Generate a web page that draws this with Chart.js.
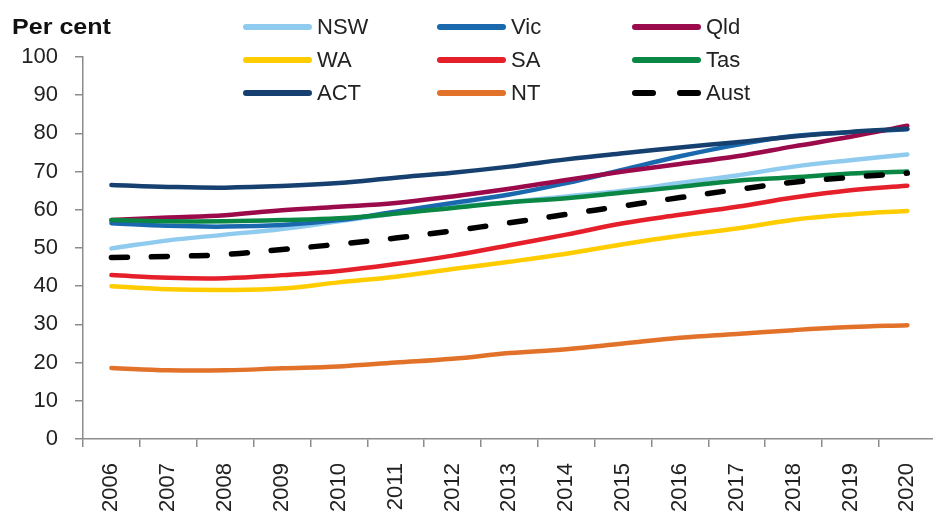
<!DOCTYPE html>
<html>
<head>
<meta charset="utf-8">
<script src="https://cdn.jsdelivr.net/npm/chart.js@4"></script>
<style>
  html, body { margin: 0; padding: 0; background: #fff; overflow: hidden; }
  #wrap { position: relative; width: 950px; height: 518px; }
  #unit { position: absolute; left: 12px; top: 14px; font: bold 22px "Liberation Sans", Arial, sans-serif; color: #111; transform: scaleX(1.14); transform-origin: left center; }
  .item { position: absolute; height: 28px; display: flex; align-items: center; font: 22px "Liberation Sans", Arial, sans-serif; color: #222; }
  .swatch { width: 69px; height: 6px; border-radius: 3px; margin-right: 5px; }
  .dash { display: flex; width: 69px; justify-content: space-between; margin-right: 5px; }
  .dash span { width: 24px; height: 6px; border-radius: 3px; background: #000; }
</style>
</head>
<body>
<div id="wrap">
  <canvas id="chart" width="950" height="518"></canvas>
  <div id="unit">Per cent</div>
  <div id="legend"></div>
</div>
<script>
const years = ["2006", "2007", "2008", "2009", "2010", "2011", "2012", "2013", "2014", "2015", "2016", "2017", "2018", "2019", "2020"];
const yTicks = [0, 10, 20, 30, 40, 50, 60, 70, 80, 90, 100];

const nsw = [49.9, 52.0, 53.5, 55.0, 57.0, 59.0, 60.8, 62.0, 63.5, 65.0, 67.0, 69.0, 71.3, 73.0, 74.5];
const vic = [56.5, 55.8, 55.6, 56.0, 57.3, 59.5, 61.8, 64.0, 67.0, 70.5, 74.0, 77.0, 79.3, 80.3, 81.1];
const qld = [57.3, 58.0, 58.6, 59.9, 60.8, 61.8, 63.5, 65.5, 67.8, 70.0, 72.0, 74.0, 76.6, 79.1, 82.0];
const wa  = [40.0, 39.2, 39.0, 39.4, 41.0, 42.5, 44.5, 46.4, 48.5, 51.0, 53.2, 55.1, 57.4, 58.8, 59.7];
const sa  = [42.9, 42.2, 42.1, 42.9, 44.0, 45.8, 48.0, 50.7, 53.5, 56.5, 58.7, 60.8, 63.2, 65.1, 66.3];
const tas = [57.3, 57.0, 57.0, 57.3, 57.8, 59.0, 60.5, 62.0, 63.0, 64.5, 66.0, 67.6, 68.5, 69.5, 70.0];
const act = [66.5, 66.0, 65.8, 66.2, 67.0, 68.4, 69.7, 71.3, 73.2, 74.8, 76.3, 77.7, 79.2, 80.4, 81.2];
const nt  = [18.6, 18.0, 18.0, 18.5, 19.0, 20.0, 21.0, 22.5, 23.5, 25.0, 26.5, 27.5, 28.5, 29.3, 29.8];
const aust = [47.5, 47.8, 48.3, 49.6, 51.0, 52.6, 54.5, 56.6, 58.8, 61.0, 63.2, 65.3, 67.2, 68.5, 69.6];

const series = [
  { label: "NSW", data: nsw, color: "#8fcbee" },
  { label: "Vic", data: vic, color: "#1a68ad" },
  { label: "Qld", data: qld, color: "#9b0a4a" },
  { label: "WA", data: wa, color: "#ffcc00" },
  { label: "SA", data: sa, color: "#e5202b" },
  { label: "Tas", data: tas, color: "#0a8745" },
  { label: "ACT", data: act, color: "#15406f" },
  { label: "NT", data: nt, color: "#e2722a" },
  { label: "Aust", data: aust, color: "#000000", dashed: true }
];

// legend (3 columns like the original)
const legend = document.getElementById("legend");
const colX = [243, 437, 632];
const rowY = [13, 46, 79];
series.forEach(function (s, i) {
  const item = document.createElement("div");
  item.className = "item";
  item.style.left = colX[i % 3] + "px";
  item.style.top = rowY[Math.floor(i / 3)] + "px";
  if (s.dashed) {
    item.innerHTML = '<div class="dash"><span></span><span></span></div>';
  } else {
    item.innerHTML = '<div class="swatch" style="background:' + s.color + '"></div>';
  }
  const txt = document.createElement("span");
  txt.textContent = s.label;
  item.appendChild(txt);
  legend.appendChild(item);
});

const axisColor = "#8c8c8c";
const ctx = document.getElementById("chart").getContext("2d");

new Chart(ctx, {
  type: "line",
  data: {
    labels: years,
    datasets: series.map(function (s, i) {
      return {
        label: s.label,
        data: s.data,
        borderColor: s.color,
        backgroundColor: s.color,
        borderWidth: s.dashed ? 5.5 : 4.5,
        borderDash: s.dashed ? [16, 24] : [],
        borderCapStyle: "round",
        borderJoinStyle: "round",
        pointRadius: 0,
        tension: 0.4,
        fill: false,
        order: series.length - i
      };
    })
  },
  options: {
    responsive: false,
    animation: false,
    layout: { padding: { left: 0, right: 8, top: 57, bottom: 0 } },
    plugins: { legend: { display: false }, tooltip: { enabled: false } },
    scales: {
      x: {
        type: "category",
        offset: true,
        afterFit: function (s) { s.height = 79; },
        grid: { drawOnChartArea: false, tickLength: 8, color: axisColor, lineWidth: 1.5, offset: true },
        border: { color: axisColor, width: 1.5 },
        ticks: {
          minRotation: 90, maxRotation: 90, padding: 16, autoSkip: false,
          color: "#222", font: { family: "Liberation Sans", size: 22 }
        }
      },
      y: {
        min: 0, max: 100,
        afterFit: function (s) { s.width = 83; },
        afterBuildTicks: function (s) { s.ticks = yTicks.map(function (v) { return { value: v }; }); },
        grid: { drawOnChartArea: false, tickLength: 8, color: axisColor, lineWidth: 1.5 },
        border: { color: axisColor, width: 1.5 },
        ticks: { padding: 17, color: "#222", font: { family: "Liberation Sans", size: 22 } }
      }
    }
  }
});
</script>
</body>
</html>
